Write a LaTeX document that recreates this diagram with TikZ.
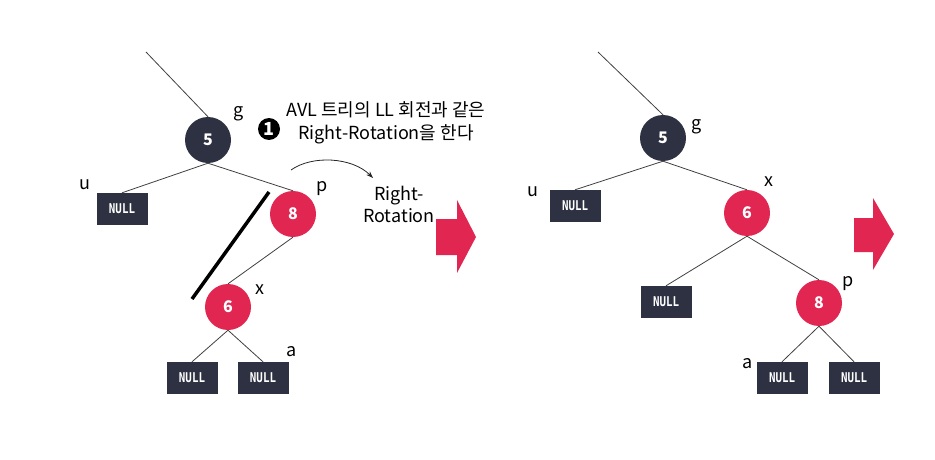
\documentclass[tikz,border=0pt]{standalone}
\usepackage{fontspec}
\setmainfont{Noto Sans CJK KR}
\newfontfamily\monofnt[FakeStretch=0.8]{DejaVu Sans Mono}
\usetikzlibrary{arrows.meta}
\definecolor{navy}{RGB}{46,49,66}
\definecolor{rbred}{RGB}{225,38,82}
\tikzset{
	blk/.style={circle,fill=navy,text=white,minimum size=46pt,inner sep=0pt,font=\bfseries\fontsize{16}{16}\selectfont},
	rednd/.style={circle,fill=rbred,text=white,minimum size=46pt,inner sep=0pt,font=\bfseries\fontsize{16}{16}\selectfont},
	nul/.style={rectangle,fill=navy,text=white,minimum width=51pt,minimum height=32pt,inner sep=0pt,font=\monofnt\bfseries\fontsize{13.5}{13.5}\selectfont},
	lbl/.style={inner sep=0pt,font=\fontsize{18}{18}\selectfont},
	edge/.style={draw=black!75,line width=0.8pt}
}
\begin{document}
\begin{tikzpicture}[x=1pt,y=-1pt]
					\useasboundingbox (0,0) rectangle (935,460);
					\coordinate (top1) at (146,52);
					\node[blk] (g1) at (208,140) {5};
					\node[nul] (u1) at (122,209) {NULL};
					\node[rednd] (p1) at (293,214) {8};
					\node[rednd] (x1) at (228,307) {6};
					\node[nul] (n1) at (192,378) {NULL};
					\node[nul] (a1) at (263,378) {NULL};
					\draw[edge] (top1) -- (g1.north);
					\draw[edge] (g1.south) -- (u1.north);
					\draw[edge] (g1.south) -- (p1.north);
					\draw[edge] (p1.south) -- (x1.north);
					\draw[edge] (x1.south) -- (n1.north);
					\draw[edge] (x1.south) -- (a1.north);
					\node[lbl] (lg1) at (239,114) {g};
					\node[lbl] (lu1) at (85,185) {u};
					\node[lbl] (lp1) at (322,189) {p};
					\node[lbl] (lx1) at (260,290) {x};
					\node[lbl] (la1) at (292,352) {a};
					\coordinate (cut1) at (269,192);
					\coordinate (cut2) at (192,299);
					\draw[line width=3.5pt] (cut1) -- (cut2);
					\node[circle,fill=black,text=white,minimum size=22pt,inner sep=0pt,font=\bfseries\fontsize{18}{18}\selectfont] (one) at (269,129) {1};
					\node[align=center,inner sep=0pt,font=\fontsize{18}{23}\selectfont] (txt) at (386,123) {AVL 트리의 LL 회전과 같은\\Right-Rotation을 한다};
					\node[align=center,inner sep=0pt,font=\fontsize{18}{22}\selectfont] (rot) at (399,204) {Right-\\Rotation};
					\coordinate (rs) at (291,170);
					\coordinate (re) at (373,178);
					\draw[black!85,line width=0.8pt,-{Stealth[length=7pt,width=5pt]}] (rs) .. controls (312,155) and (352,157) .. (re);
					\fill[rbred] (436,219) -- (457,219) -- (457,200) -- (476,237) -- (457,273) -- (457,255) -- (436,255) -- cycle;
					\coordinate (top2) at (598,52);
					\node[blk] (g2) at (663,138) {5};
					\node[nul] (u2) at (575,206) {NULL};
					\node[rednd] (x2) at (747,213) {6};
					\node[nul] (n2) at (666,302) {NULL};
					\node[rednd] (p2) at (819,303) {8};
					\node[nul] (a2) at (782,378) {NULL};
					\node[nul] (m2) at (854,378) {NULL};
					\draw[edge] (top2) -- (g2.north);
					\draw[edge] (g2.south) -- (u2.north);
					\draw[edge] (g2.south) -- (x2.north);
					\draw[edge] (x2.south) -- (n2.north);
					\draw[edge] (x2.south) -- (p2.north);
					\draw[edge] (p2.south) -- (a2.north);
					\draw[edge] (p2.south) -- (m2.north);
					\node[lbl] (lg2) at (697,127) {g};
					\node[lbl] (lu2) at (533,192) {u};
					\node[lbl] (lx2) at (769,182) {x};
					\node[lbl] (lp2) at (848,284) {p};
					\node[lbl] (la2) at (748,364) {a};
					\fill[rbred] (854,218) -- (873,218) -- (873,198) -- (894,234) -- (873,270) -- (873,252) -- (854,252) -- cycle;
				\end{tikzpicture}
\end{document}
